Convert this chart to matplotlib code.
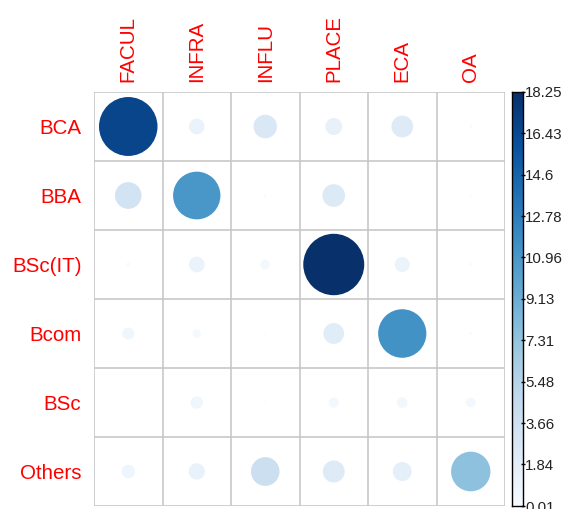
import matplotlib
matplotlib.use("Agg")
import matplotlib.pyplot as plt
import matplotlib.colors as mcolors
from matplotlib.patches import Circle
import numpy as np

plt.rcParams["font.family"] = ["Liberation Sans", "DejaVu Sans"]

rows = ["BCA", "BBA", "BSc(IT)", "Bcom", "BSc", "Others"]
cols = ["FACUL", "INFRA", "INFLU", "PLACE", "ECA", "OA"]

bca = [16.8, 1.2, 2.7, 1.4, 2.3, 0.05]
bba = [3.45, 11.0, 0.05, 2.5, 0.01, 0.03]
bsc_it = [0.08, 1.2, 0.45, 18.25, 1.1, 0.05]
bcom = [0.7, 0.35, 0.02, 2.1, 11.4, 0.05]
bsc = [0.01, 0.75, 0.02, 0.5, 0.55, 0.45]
others = [0.9, 1.3, 4.0, 2.35, 1.75, 7.6]

cbar_ticks = [0.01, 1.84, 3.66, 5.48, 7.31, 9.13, 10.96, 12.78, 14.6, 16.43, 18.25]

vals = np.array([bca, bba, bsc_it, bcom, bsc, others])
vmin, vmax = 0.01, 18.25
norm = mcolors.Normalize(vmin=vmin, vmax=vmax)
cmap = plt.get_cmap("Blues")

fig = plt.figure(figsize=(5.66, 5.09), dpi=100)
ax = fig.add_axes([94 / 566, 1 - 506 / 509, 411 / 566, 414 / 509])
nr, nc = vals.shape
ax.set_xlim(0, nc)
ax.set_ylim(nr, 0)

for i in range(nr):
    for j in range(nc):
        v = vals[i, j]
        r = 0.445 * np.sqrt(v / vmax)
        ax.add_patch(Circle((j + 0.5, i + 0.5), r, facecolor=cmap(norm(v)),
                            edgecolor="none", zorder=2))

grid_col = "#c8c8c8"
for k in range(nc + 1):
    ax.axvline(k, color=grid_col, lw=1.2, zorder=1)
for k in range(nr + 1):
    ax.axhline(k, color=grid_col, lw=1.2, zorder=1)

for s in ax.spines.values():
    s.set_visible(False)

ax.xaxis.tick_top()
ax.set_xticks(np.arange(nc) + 0.5)
ax.set_xticklabels(cols, rotation=90, color="red", fontsize=14.8)
ax.set_yticks(np.arange(nr) + 0.5)
ax.set_yticklabels(rows, color="red", fontsize=14.8)
ax.tick_params(axis="x", length=0, pad=7)
ax.tick_params(axis="y", length=0, pad=9)

cax = fig.add_axes([512 / 566, 1 - 506 / 509, 11 / 566, 414 / 509])
grad = np.linspace(vmin, vmax, 256).reshape(-1, 1)
cax.imshow(grad, aspect="auto", cmap=cmap, norm=norm, origin="lower",
           extent=[0, 1, vmin, vmax])
cax.set_xticks([])
cax.yaxis.tick_right()
cax.set_yticks(cbar_ticks)
cax.set_yticklabels([f"{t:g}" for t in cbar_ticks], fontsize=10.8, color="#222222")
cax.tick_params(axis="y", length=3, width=1, pad=0, direction="inout")
for s in cax.spines.values():
    s.set_linewidth(1)

fig.savefig("out.png", dpi=100)
